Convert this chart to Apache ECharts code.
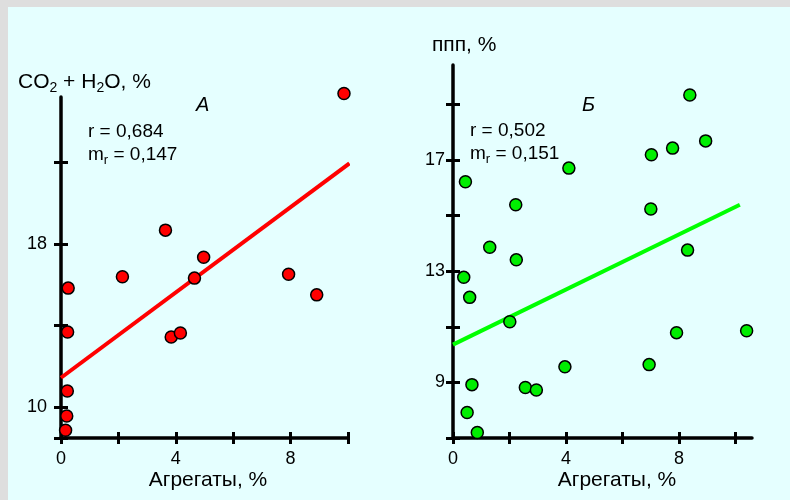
<!DOCTYPE html>
<html><head><meta charset="utf-8">
<script src="https://cdn.jsdelivr.net/npm/echarts@6/dist/echarts.min.js"></script>
<style>
html,body{margin:0;padding:0;width:790px;height:500px;overflow:hidden;background:#dedede;}
#panel{position:absolute;left:8px;top:7px;width:782px;height:493px;background:#e5ffff;}
#chart{position:absolute;left:0;top:0;width:790px;height:500px;}
</style></head><body>
<div id="panel"></div><div id="chart"></div>
<script>
// Panel A: CO2 + H2O vs aggregates
const xTicksA = [0, 2, 4, 6, 8, 10];
const xLabelsA = [0, 4, 8];
const yTicksA = [8.5, 10, 14, 18, 22];
const yLabelsA = [10, 18];
const pointsA = [
  [9.86, 25.37], [3.64, 18.68], [4.97, 17.35], [4.65, 16.33], [2.14, 16.40],
  [7.93, 16.52], [8.91, 15.51], [0.25, 15.84], [0.23, 13.69], [3.84, 13.45],
  [4.16, 13.64], [0.22, 10.80], [0.20, 9.58], [0.16, 8.88]
];
const trendA = [[0, 11.45], [10.05, 21.95]];

// Panel B: ППП vs aggregates
const xTicksB = [0, 2, 4, 6, 8, 10];
const xLabelsB = [0, 4, 8];
const yTicksB = [7, 9, 11, 13, 15, 17, 19];
const yLabelsB = [9, 13, 17];
const pointsB = [
  [8.38, 19.34], [8.94, 17.69], [7.77, 17.43], [7.02, 17.19], [4.10, 16.71],
  [0.44, 16.22], [2.22, 15.39], [7.00, 15.24], [1.30, 13.86], [8.30, 13.76],
  [2.24, 13.41], [0.38, 12.78], [0.59, 12.06], [2.01, 11.18], [7.91, 10.79],
  [10.39, 10.86], [3.96, 9.56], [6.94, 9.64], [0.67, 8.92], [2.56, 8.82],
  [2.95, 8.73], [0.50, 7.92], [0.86, 7.20]
];
const trendB = [[0, 10.36], [10.15, 15.39]];

const FONT = '"Liberation Sans", Arial, sans-serif';

function xAxes(gridIndex, max, ticks, labels, inner) {
  return {
    type: 'value', gridIndex: gridIndex, min: 0, max: max, position: 'bottom',
    splitLine: { show: false },
    axisLine: { show: !inner, onZero: false, lineStyle: { color: '#000', width: 3.5 } },
    axisTick: { show: true, inside: inner, length: 6, customValues: ticks, lineStyle: { color: '#000', width: 3 } },
    axisLabel: { show: !inner, customValues: labels, margin: 12, color: '#000', fontSize: 18, fontFamily: FONT }
  };
}
function yAxes(gridIndex, min, max, ticks, labels, inner, margin) {
  return {
    type: 'value', gridIndex: gridIndex, min: min, max: max, position: 'left',
    splitLine: { show: false },
    axisLine: { show: !inner, onZero: false, lineStyle: { color: '#000', width: 3.5 } },
    axisTick: { show: true, inside: inner, length: 7, customValues: ticks, lineStyle: { color: '#000', width: 3 } },
    axisLabel: { show: !inner, customValues: labels, margin: margin, color: '#000', fontSize: 18, fontFamily: FONT }
  };
}

const chart = echarts.init(document.getElementById('chart'), null, { renderer: 'canvas' });

function txt(x, y, text, size, opts) {
  opts = opts || {};
  return {
    type: 'text', x: x, y: y, z: 100,
    style: Object.assign({
      text: text, fill: '#000',
      font: (opts.italic ? 'italic ' : '') + size + 'px ' + FONT,
      fontSize: size, fontFamily: FONT, fontStyle: opts.italic ? 'italic' : 'normal',
      textAlign: opts.align || 'left', align: opts.align || 'left',
      textVerticalAlign: 'middle', verticalAlign: 'middle'
    }, opts.rich ? { rich: opts.rich } : {})
  };
}
const richSub = function (size, sub, lh, slh) {
  return {
    a: { fontSize: size, fontFamily: FONT, color: '#000', lineHeight: lh, verticalAlign: 'middle' },
    s: { fontSize: sub, fontFamily: FONT, color: '#000', lineHeight: slh, verticalAlign: 'bottom' }
  };
};

chart.setOption({
  backgroundColor: 'transparent',
  animation: false,
  grid: [
    { left: 61, top: 97, width: 287, height: 341, containLabel: false },
    { left: 453, top: 65, width: 299, height: 373, containLabel: false }
  ],
  xAxis: [
    xAxes(0, 10, xTicksA, xLabelsA, false),
    xAxes(0, 10, xTicksA, xLabelsA, true),
    xAxes(1, 10.58, xTicksB, xLabelsB, false),
    xAxes(1, 10.58, xTicksB, xLabelsB, true)
  ],
  yAxis: [
    yAxes(0, 8.5, 25.2, yTicksA, yLabelsA, false, 14),
    yAxes(0, 8.5, 25.2, yTicksA, yLabelsA, true, 14),
    yAxes(1, 7, 20.42, yTicksB, yLabelsB, false, 8),
    yAxes(1, 7, 20.42, yTicksB, yLabelsB, true, 8)
  ],
  series: [
    { type: 'line', xAxisIndex: 0, yAxisIndex: 0, data: trendA, symbol: 'none', clip: false, z: 2,
      lineStyle: { color: '#ff0000', width: 4 } },
    { type: 'scatter', xAxisIndex: 0, yAxisIndex: 0, data: pointsA, symbolSize: 12, clip: false, z: 3,
      itemStyle: { color: '#ff0000', borderColor: '#000', borderWidth: 1.5, opacity: 1 } },
    { type: 'line', xAxisIndex: 2, yAxisIndex: 2, data: trendB, symbol: 'none', clip: false, z: 2,
      lineStyle: { color: '#00ff00', width: 4 } },
    { type: 'scatter', xAxisIndex: 2, yAxisIndex: 2, data: pointsB, symbolSize: 12, clip: false, z: 3,
      itemStyle: { color: '#00ee00', borderColor: '#000', borderWidth: 1.5, opacity: 1 } }
  ],
  graphic: [
    txt(18, 82, '{a|CO}{s|2}{a| + H}{s|2}{a|O, %}', 21, { rich: richSub(21, 14, 26, 14) }),
    txt(432, 45, 'ппп, %', 21),
    txt(196, 105, 'А', 20, { italic: true }),
    txt(582, 105, 'Б', 20, { italic: true }),
    txt(88, 131.5, 'r = 0,684', 19),
    txt(88, 155, '{a|m}{s|r}{a| = 0,147}', 19, { rich: richSub(19, 13, 24, 13) }),
    txt(470, 130.5, 'r = 0,502', 19),
    txt(470, 154, '{a|m}{s|r}{a| = 0,151}', 19, { rich: richSub(19, 13, 24, 13) }),
    txt(208, 480, 'Агрегаты, %', 21, { align: 'center' }),
    txt(617, 480, 'Агрегаты, %', 21, { align: 'center' })
  ]
});
</script>
</body></html>
